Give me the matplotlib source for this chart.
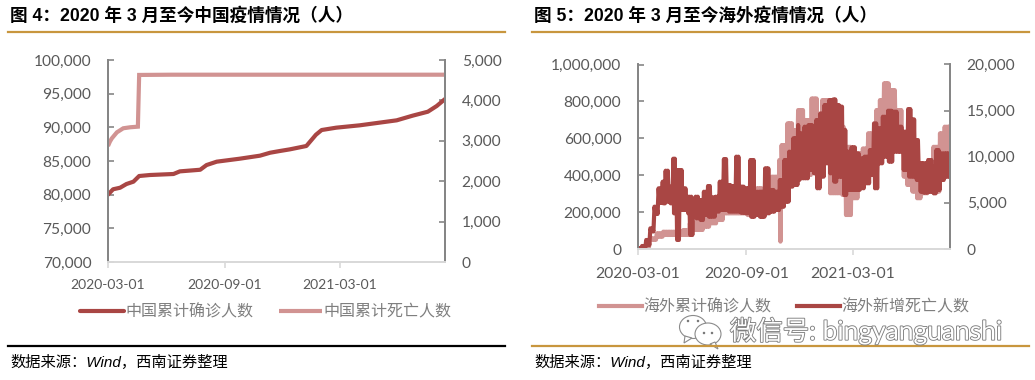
import matplotlib
matplotlib.use('Agg')
import matplotlib.pyplot as plt
import matplotlib.patheffects as pe
from matplotlib.patches import Ellipse, Polygon
from matplotlib.ticker import FuncFormatter
import pandas as pd

start = pd.Timestamp('2020-03-01')
date_ticks = ['2020-03-01', '2020-09-01', '2021-03-01']

# fig 4, days since 2020-03-01
cn_conf_days = [0, 8, 19, 29, 40, 49, 66, 103, 113, 145, 155, 171, 207, 239, 255, 270, 286, 312, 320, 327, 336, 359,
                396, 454, 479, 503, 517, 530]
cn_conf = [80000, 80800, 81030, 81580, 81930, 82770, 82920, 83070, 83460, 83700, 84400, 84900, 85340, 85790, 86230,
           86480, 86730, 87230, 88120, 88900, 89600, 89950, 90300, 91040, 91730, 92320, 93170, 94200]
cn_dead_days = [0, 3, 6, 14, 24, 35, 47, 49, 100, 300, 530]
cn_dead = [2870, 2980, 3060, 3210, 3310, 3335, 3350, 4630, 4636, 4636, 4636]

# fig 5, weekly high / low
os_dead_days = [0, 7, 14, 21, 28, 35, 42, 47, 54, 60, 65, 71, 77, 84, 87, 94, 98, 105, 112, 119, 125, 132, 139, 146,
                153, 160, 167, 174, 182, 191, 199, 206, 216, 224, 233, 241, 249, 257, 264, 272, 276, 283, 290, 298,
                303, 310, 317, 325, 332, 338, 344, 349, 355, 363, 371, 378, 385, 394, 401, 408, 416, 425, 433, 442,
                450, 459, 466, 472, 479, 484, 493, 501, 507, 514, 521, 530]
os_dead_high = [70, 330, 980, 2240, 4590, 6580, 7300, 8490, 6760, 9790, 8560, 8560, 6580, 5670, 5670, 5310, 5670,
                5310, 6210, 6830, 5600, 5670, 7300, 9750, 6940, 6830, 10010, 6760, 6580, 9650, 6210, 6210, 8740,
                6400, 6210, 7480, 9650, 10550, 12000, 13440, 12540, 13260, 13440, 13260, 13980, 14700, 15610, 16150,
                16220, 15610, 15430, 12900, 10550, 11020, 10370, 9830, 10010, 10730, 13620, 13080, 14340, 14990,
                14890, 13260, 12720, 15170, 14050, 11810, 9290, 9290, 9650, 8920, 10730, 10370, 10370, 10010]
os_dead_low = [0, 70, 430, 1900, 3800, 5000, 4950, 5130, 4950, 3870, 980, 4230, 4230, 3870, 1520, 3500, 3320, 3140,
               3690, 3500, 3500, 4050, 4230, 4230, 4050, 4050, 4050, 3940, 3870, 3500, 3690, 3500, 3870, 4050, 4230,
               4590, 5130, 6760, 6940, 7480, 7660, 7660, 8560, 8200, 6580, 7840, 9290, 8200, 7300, 7840, 7840, 5850,
               6400, 6400, 6400, 6580, 7120, 8020, 6580, 9290, 10010, 9470, 10550, 10550, 8560, 7840, 7840, 7480,
               6210, 6110, 6210, 6030, 6400, 7480, 7840, 8020]

os_conf_days = [0, 9, 20, 32, 43, 54, 66, 77, 88, 100, 111, 122, 134, 145, 156, 168, 185, 202, 213, 227, 240, 244,
                254, 264, 272, 283, 295, 306, 313, 325, 337, 346, 352, 363, 374, 382, 391, 405, 411, 418, 428, 439,
                450, 456, 465, 473, 481, 493, 502, 513, 521, 530]
os_conf_high = [0, 16000, 57800, 84900, 93900, 94000, 94000, 103000, 139000, 157000, 184000, 202000, 202000, 220000,
                229000, 229000, 247000, 329000, 302000, 392000, 482000, 563000, 681000, 645000, 753000, 699000,
                816000, 717000, 807000, 753000, 771000, 663000, 554000, 518000, 518000, 545000, 627000, 753000,
                807000, 898000, 861000, 753000, 627000, 482000, 446000, 428000, 428000, 464000, 554000, 627000,
                663000, 666000]
os_conf_low = [0, 10000, 50000, 66800, 75900, 76000, 76000, 76000, 103000, 103000, 121000, 139000, 157000, 193000,
               193000, 193000, 184000, 193000, 229000, 229000, 40000, 392000, 446000, 500000, 482000, 401000, 482000,
               392000, 482000, 302000, 302000, 293000, 184000, 275000, 338000, 392000, 428000, 518000, 554000,
               609000, 609000, 573000, 392000, 347000, 311000, 275000, 302000, 320000, 311000, 410000, 410000,
               482000]

DARK = '#A94644'
PINK = '#D19392'
TICK = '#595959'
W, H = 1035, 380

plt.rcParams['font.family'] = ['Lato', 'Noto Sans CJK SC', 'DejaVu Sans']


def to_dates(days):
    return start + pd.to_timedelta(days, unit='D')


def zigzag(days, high, low):
    # the daily series swings between high and low all through each reading
    xs, ys = [], []
    for i in range(len(days)):
        step = days[i + 1] - days[i] if i + 1 < len(days) else 0
        n = max(1, int(step / 2.5))
        for k in range(n):
            xs += [days[i] + step * k / n, days[i] + step * (k + 0.5) / n]
            ys += [high[i], low[i]]
    return xs, ys


def make_axes(x0, x1, y0, y1):
    ax = fig.add_axes([x0 / W, 1 - y1 / H, (x1 - x0) / W, (y1 - y0) / H])
    ax2 = ax.twinx()
    for a in (ax, ax2):
        a.patch.set_visible(False)
        a.spines['top'].set_visible(False)
        a.spines['left'].set_color('#868686')
        a.spines['right'].set_color('#868686')
        a.spines['left'].set_linewidth(1.4)
        a.spines['right'].set_linewidth(1.4)
        a.spines['bottom'].set_color('#D9D9D9')
        a.spines['bottom'].set_linewidth(1.4)
        a.yaxis.set_major_formatter(FuncFormatter(lambda v, p: f'{int(v):,}'))
    ax.tick_params(axis='y', direction='in', length=4, width=1.2, color='#868686', pad=12)
    ax2.tick_params(axis='y', direction='in', length=4, width=1.2, color='#868686', pad=12)
    ax.tick_params(axis='x', direction='out', length=4, width=1.2, color='#D9D9D9')
    ax.set_xlim(start, start + pd.Timedelta(days=530))
    ax.set_xticks(pd.to_datetime(date_ticks))
    ax.set_xticklabels(date_ticks)
    return ax, ax2


fig = plt.figure(figsize=(W / 100, H / 100), dpi=100, facecolor='white')

# left chart
ax, ax2 = make_axes(108, 445, 60, 262)
l1, = ax.plot(to_dates(cn_conf_days), cn_conf, color=DARK, lw=3, solid_capstyle='round', label='中国累计确诊人数')
l2, = ax2.plot(to_dates(cn_dead_days), cn_dead, color=PINK, lw=3, solid_capstyle='butt', solid_joinstyle='miter',
               label='中国累计死亡人数')
ax.set_ylim(70000, 100000)
ax.set_yticks(range(70000, 100001, 5000))
ax2.set_ylim(0, 5000)
ax2.set_yticks(range(0, 5001, 1000))
ax.tick_params(axis='y', labelsize=11.2, labelcolor=TICK)
ax2.tick_params(axis='y', labelsize=11.2, labelcolor=TICK)
ax.tick_params(axis='x', labelsize=10, labelcolor=TICK, pad=8)
ax.set_zorder(ax2.get_zorder() + 1)
fig.legend(handles=[l1, l2], loc='center', bbox_to_anchor=(266 / W, 1 - 312 / H), ncol=2, frameon=False,
           fontsize=11.5, labelcolor='#7F7F7F', handlelength=2.7, columnspacing=1.6, handletextpad=0.1)

# right chart
ax3, ax4 = make_axes(638, 950, 64.5, 249)
cx, cy = zigzag(os_conf_days, os_conf_high, os_conf_low)
dx, dy = zigzag(os_dead_days, os_dead_high, os_dead_low)
l3, = ax3.plot(to_dates(cx), cy, color=PINK, lw=3, label='海外累计确诊人数')
l4, = ax4.plot(to_dates(dx), dy, color=DARK, lw=3, label='海外新增死亡人数')
ax3.set_ylim(0, 1000000)
ax3.set_yticks(range(0, 1000001, 200000))
ax4.set_ylim(0, 20000)
ax4.set_yticks(range(0, 20001, 5000))
ax3.tick_params(axis='y', labelsize=11.2, labelcolor=TICK)
ax4.tick_params(axis='y', labelsize=11.2, labelcolor=TICK)
ax3.tick_params(axis='x', labelsize=11.3, labelcolor=TICK, pad=9)
fig.legend(handles=[l3, l4], loc='center', bbox_to_anchor=(784 / W, 1 - 307 / H), ncol=2, frameon=False,
           fontsize=11.5, labelcolor='#7F7F7F', handlelength=2.7, columnspacing=1.6, handletextpad=0.1)

# header, footer and watermark are drawn in pixel coordinates
over = fig.add_axes([0, 0, 1, 1])
over.set_xlim(0, W)
over.set_ylim(H, 0)
over.axis('off')
over.patch.set_visible(False)

title_font = ['Liberation Sans', 'Noto Sans CJK SC']
over.text(10, 16, '图 4：2020 年 3 月至今中国疫情情况（人）', fontsize=12.7, fontweight='bold', family=title_font, va='center')
over.text(534, 16, '图 5：2020 年 3 月至今海外疫情情况（人）', fontsize=12.7, fontweight='bold', family=title_font, va='center')
over.plot([8, 505], [32, 32], color='#C8963E', lw=1.6)
over.plot([532, 1029], [32, 32], color='#C8963E', lw=1.6)
over.plot([8, 505], [346, 346], color='black', lw=1.6)
over.plot([532, 1029], [346, 346], color='#C8963E', lw=1.6)
over.text(10, 362, '数据来源：Wind，西南证券整理', fontsize=11, style='italic', family=title_font, va='center')
over.text(534, 362, '数据来源：Wind，西南证券整理', fontsize=11, style='italic', family=title_font, va='center')

over.text(730, 331, '微信号: bingyanguanshi', fontsize=19, color='white', va='center',
          path_effects=[pe.withStroke(linewidth=1.3, foreground='#808080')])
over.add_patch(Ellipse((693, 327), 27, 23, fc='white', ec='#8A8A8A', lw=0.8))
over.add_patch(Polygon([[685, 336], [684, 343], [692, 338]], fc='white', ec='#8A8A8A', lw=0.8))
over.add_patch(Ellipse((708, 334), 26, 22, fc='white', ec='#8A8A8A', lw=0.8))
over.add_patch(Polygon([[710, 344], [718, 349], [715, 342]], fc='white', ec='#8A8A8A', lw=0.8))
for ex, ey in [(688, 321), (698, 321), (704, 333), (712, 333)]:
    over.add_patch(Ellipse((ex, ey), 2.5, 2.5, fc='#777777', ec='none'))

fig.savefig('out.png', dpi=100)
